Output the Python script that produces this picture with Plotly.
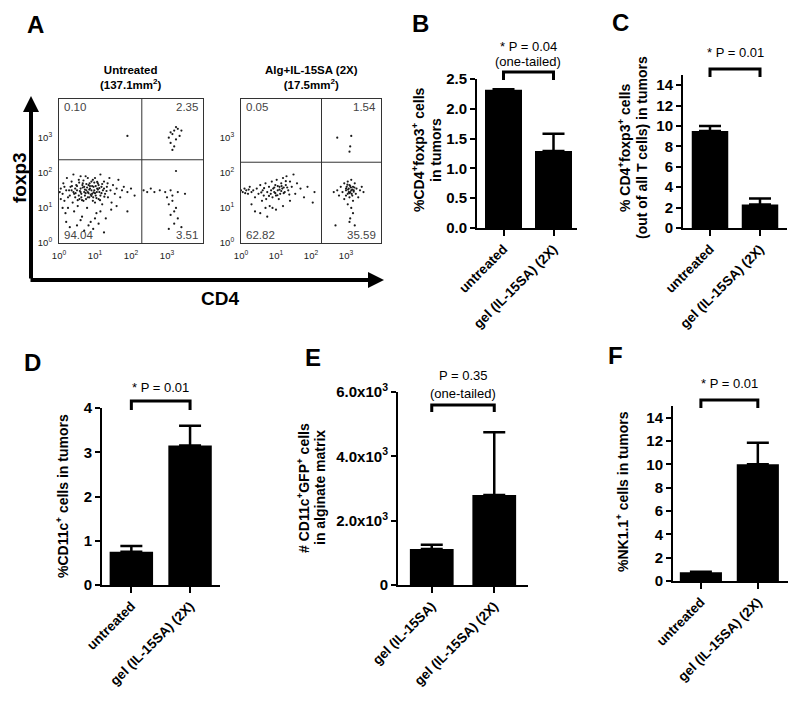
import plotly.graph_objects as go

W, H = 800, 709
FONT = "Liberation Sans, Arial, Helvetica, sans-serif"

# ===================== DATA =====================
# ---- Panel A: flow cytometry dot plots (log10 CD4, log10 foxp3)
a_titles = ["<b>Untreated<br>(137.1mm<sup>2</sup>)</b>", "<b>Alg+IL-15SA (2X)<br>(17.5mm<sup>2</sup>)</b>"]
a1_quadrant_pct = ["0.10", "2.35", "94.04", "3.51"]   # UL, UR, LL, LR
a2_quadrant_pct = ["0.05", "1.54", "62.82", "35.59"]
a1_gate_log = [2.3, 2.37]   # CD4 gate, foxp3 gate (log10)
a2_gate_log = [2.3, 2.3]
a_tick_vals = [1, 10, 100, 1000]
a_tick_text = ["10<sup>0</sup>", "10<sup>1</sup>", "10<sup>2</sup>", "10<sup>3</sup>"]

a1_events_log = [
    (0.05, 1.55), (0.1, 1.4), (0.12, 1.7), (0.15, 1.2), (0.2, 1.5), (0.22, 1.85), (0.25, 1.0), (0.3, 1.35),
    (0.32, 1.6), (0.35, 1.75), (0.38, 1.15), (0.4, 1.45), (0.42, 0.9), (0.45, 1.3), (0.48, 1.65), (0.5, 1.5),
    (0.52, 1.05), (0.55, 1.8), (0.57, 1.25), (0.6, 1.55), (0.62, 1.4), (0.64, 0.75), (0.66, 1.7), (0.68, 1.2),
    (0.7, 1.6), (0.72, 1.35), (0.74, 1.9), (0.76, 1.5), (0.78, 1.0), (0.8, 1.45), (0.82, 1.65), (0.84, 1.3),
    (0.86, 1.55), (0.88, 0.6), (0.9, 1.75), (0.92, 1.4), (0.94, 1.2), (0.96, 1.6), (0.98, 1.5), (1.0, 1.85),
    (1.02, 1.35), (1.04, 0.85), (1.06, 1.55), (1.08, 1.7), (1.1, 1.25), (1.12, 1.45), (1.15, 1.95), (1.18, 1.6),
    (1.2, 1.1), (1.22, 1.5), (1.25, 1.75), (1.28, 1.4), (1.3, 0.7), (1.33, 1.6), (1.36, 1.3), (1.4, 1.85),
    (1.43, 1.5), (1.46, 1.15), (1.5, 1.65), (1.55, 1.4), (1.6, 1.55), (1.65, 1.8), (1.7, 1.3), (1.75, 1.5),
    (1.8, 1.6), (1.9, 1.45), (2.0, 1.55), (2.1, 1.35), (0.3, 0.45), (0.5, 0.5), (0.7, 0.35), (0.95, 0.4),
    (1.1, 0.55), (0.2, 0.6), (1.25, 0.3), (1.9, 0.9), (0.15, 1.6), (0.35, 1.5), (0.55, 1.35), (0.65, 1.65),
    (0.75, 1.25), (0.85, 1.7), (0.95, 1.3), (1.05, 1.45), (1.15, 1.35), (1.25, 1.55), (1.35, 1.7), (0.45, 1.55),
    (0.6, 1.9), (0.8, 1.85), (1.0, 1.15), (0.9, 1.5), (0.7, 1.45), (1.1, 1.65), (0.25, 1.3), (0.05, 1.25),
    (0.02, 1.45), (0.4, 1.95), (0.58, 1.48), (0.88, 1.38), (1.02, 1.62), (1.32, 1.48), (0.78, 1.58), (0.52, 1.22),
    (0.62, 1.3), (0.72, 1.52), (0.82, 1.42), (0.92, 1.62), (1.08, 1.52), (0.68, 1.78), (0.98, 1.72), (0.42, 1.4),
    (0.6, 1.45), (0.66, 1.58), (0.74, 1.42), (0.84, 1.52), (0.86, 1.62), (0.9, 1.34), (0.96, 1.44), (1.04, 1.28),
    (1.06, 1.74), (1.12, 1.56), (1.18, 1.42), (1.2, 1.68), (0.5, 1.62), (0.56, 1.72), (0.64, 1.22), (0.76, 1.68),
    (0.8, 1.3), (0.94, 1.8), (1.0, 1.42), (1.14, 1.22), (0.36, 1.62), (0.28, 1.5), (0.46, 1.42), (1.26, 1.32),
    (0.1, 1.0), (0.18, 0.85), (0.6, 0.65), (0.82, 0.5), (1.0, 0.7), (1.15, 0.9), (1.45, 0.95), (1.6, 1.05),
    # lower right
    (2.35, 1.5), (2.45, 1.45), (2.55, 1.55), (2.65, 1.45), (2.8, 1.5), (2.95, 1.45), (3.1, 1.5), (3.3, 1.45),
    (3.5, 1.4), (3.05, 1.1), (3.15, 1.2), (3.2, 0.9), (3.25, 1.0), (3.1, 0.8), (3.3, 0.7), (3.2, 0.55),
    (3.05, 0.4), (3.4, 0.45), (3.15, 1.35), (3.25, 2.05), (3.0, 1.3),
    # upper right
    (3.05, 3.0), (3.1, 2.85), (3.15, 3.1), (3.2, 3.2), (3.25, 2.95), (3.3, 3.25), (3.2, 2.75), (3.35, 3.05),
    (3.15, 2.65), (3.4, 3.2), (3.25, 3.3), (3.1, 3.15),
    # upper left
    (1.9, 3.05),
]

a2_events_log = [
    (0.0, 1.5), (0.05, 1.45), (0.1, 1.55), (0.15, 1.5), (0.2, 1.4), (0.25, 1.6), (0.3, 1.45), (0.35, 1.5),
    (0.4, 1.3), (0.45, 1.55), (0.5, 1.4), (0.55, 1.65), (0.6, 1.2), (0.62, 1.5), (0.65, 1.35), (0.7, 1.7),
    (0.72, 1.25), (0.75, 1.45), (0.8, 1.6), (0.82, 1.05), (0.85, 1.4), (0.88, 1.75), (0.9, 1.3), (0.92, 1.55),
    (0.95, 1.45), (0.98, 1.65), (1.0, 1.35), (1.02, 1.8), (1.05, 1.5), (1.08, 1.25), (1.1, 1.6), (1.12, 1.4),
    (1.15, 1.7), (1.18, 1.55), (1.2, 1.85), (1.25, 1.45), (1.28, 1.65), (1.3, 1.9), (1.35, 1.5), (1.4, 1.75),
    (1.45, 1.6), (1.5, 1.95), (1.55, 1.4), (1.6, 1.7), (1.7, 1.55), (1.8, 1.3), (1.9, 1.6), (2.05, 1.15),
    (2.1, 1.45), (0.55, 0.85), (0.75, 0.75), (1.0, 0.95), (1.2, 1.05), (0.4, 0.9), (0.3, 1.1), (0.9, 1.0),
    (1.4, 1.2), (0.7, 1.0), (1.05, 1.62), (1.15, 1.48), (0.95, 1.58), (1.22, 1.58),
    (0.98, 1.42), (1.04, 1.36), (1.1, 1.52), (1.16, 1.62), (1.22, 1.42), (0.86, 1.5), (0.8, 1.34), (0.66, 1.56),
    (1.32, 1.58), (1.38, 1.38), (0.58, 1.44), (0.12, 1.42), (0.22, 1.52), (1.28, 1.76),
    # lower right cluster
    (2.65, 1.45), (2.75, 1.5), (2.8, 1.35), (2.85, 1.6), (2.9, 1.45), (2.95, 1.25), (2.95, 1.7), (3.0, 1.5),
    (3.0, 1.35), (3.02, 1.6), (3.05, 1.4), (3.05, 1.75), (3.08, 1.55), (3.1, 1.3), (3.1, 1.65), (3.12, 1.45),
    (3.15, 1.5), (3.15, 1.8), (3.18, 1.35), (3.2, 1.6), (3.2, 1.2), (3.22, 1.5), (3.25, 1.7), (3.28, 1.4),
    (3.3, 1.55), (3.35, 1.3), (3.4, 1.5), (3.45, 1.6), (3.5, 1.45), (3.05, 1.1), (3.15, 1.0), (3.2, 0.85),
    (3.1, 0.6), (3.25, 0.5), (3.12, 0.7), (2.7, 0.5), (3.0, 1.55), (3.08, 1.45), (3.12, 1.62), (3.18, 1.52),
    (3.06, 1.52), (3.1, 1.42), (3.14, 1.58), (3.16, 1.4), (3.22, 1.46), (3.04, 1.66), (3.24, 1.58),
    # upper right
    (3.1, 2.6), (3.12, 2.75), (3.15, 3.05), (2.75, 3.0),
]

# ---- Bar panels: mean + SEM
cats_B = ["untreated", "gel (IL-15SA) (2X)"]
mean_B = [2.32, 1.29]
sem_B = [0.01, 0.29]
ptext_B = ["* P = 0.04", "(one-tailed)"]

cats_C = ["untreated", "gel (IL-15SA) (2X)"]
mean_C = [9.5, 2.3]
sem_C = [0.5, 0.6]
ptext_C = ["* P = 0.01"]

cats_D = ["untreated", "gel (IL-15SA) (2X)"]
mean_D = [0.75, 3.15]
sem_D = [0.13, 0.45]
ptext_D = ["* P = 0.01"]

cats_E = ["gel (IL-15SA)", "gel (IL-15SA) (2X)"]
mean_E = [1120, 2800]
sem_E = [130, 1950]
ptext_E = ["P = 0.35", "(one-tailed)"]
ticks_E = [0, 2000, 4000, 6000]
ticktext_E = ["0", "2.0x10<sup>3</sup>", "4.0x10<sup>3</sup>", "6.0x10<sup>3</sup>"]

cats_F = ["untreated", "gel (IL-15SA) (2X)"]
mean_F = [0.75, 10.0]
sem_F = [0.05, 1.85]
ptext_F = ["* P = 0.01"]

# ===================== LAYOUT HELPERS =====================
def px(x):
    return x / W

def py(y):
    return 1 - y / H

def axnames(k):
    s = "" if k == 1 else str(k)
    return f"x{s}", f"y{s}", f"xaxis{s}", f"yaxis{s}"

fig = go.Figure()
layout = dict(
    template="none",
    width=W, height=H, margin=dict(l=0, r=0, t=0, b=0, pad=0), autosize=False,
    paper_bgcolor="white", plot_bgcolor="white", showlegend=False,
    font=dict(family=FONT, color="black"),
)
annotations = []
shapes = []

def label(text, x, y, size, angle=0, color="black", xanchor="center", yanchor="middle"):
    annotations.append(dict(text=text, x=px(x), y=py(y), xref="paper", yref="paper", textangle=angle,
                            showarrow=False, xanchor=xanchor, yanchor=yanchor,
                            font=dict(size=size, family=FONT, color=color)))

# ---------------- Panel A ----------------
dot_boxes = [(59, 203, 99, 243), (241, 381, 99, 243)]
dot_events = [a1_events_log, a2_events_log]
dot_pcts = [a1_quadrant_pct, a2_quadrant_pct]
dot_gates = [a1_gate_log, a2_gate_log]
XMAX, YMAX = 4.0, 4.1
for i in range(2):
    k = i + 1
    xa, ya, xkey, ykey = axnames(k)
    x0, x1, y0, y1 = dot_boxes[i]
    ev = dot_events[i]
    fig.add_trace(go.Scatter(
        x=[10 ** e[0] for e in ev], y=[10 ** e[1] for e in ev], mode="markers",
        marker=dict(size=2.2, color="#1a1a1a"), xaxis=xa, yaxis=ya, hoverinfo="skip"))
    gx, gy = dot_gates[i]
    fig.add_trace(go.Scatter(x=[10 ** gx, 10 ** gx], y=[1, 10 ** YMAX], mode="lines",
                             line=dict(color="#333", width=1), xaxis=xa, yaxis=ya))
    fig.add_trace(go.Scatter(x=[1, 10 ** XMAX], y=[10 ** gy, 10 ** gy], mode="lines",
                             line=dict(color="#333", width=1), xaxis=xa, yaxis=ya))
    common = dict(type="log", showline=True, mirror=True, linecolor="#333", automargin=False,
                  linewidth=1, showgrid=False, zeroline=False, ticks="", tickvals=a_tick_vals,
                  ticktext=a_tick_text, tickfont=dict(size=9.5, color="#222", family=FONT))
    layout[xkey] = dict(common, domain=[px(x0), px(x1)], anchor=ya, range=[0, XMAX], ticklabelstandoff=4)
    layout[ykey] = dict(common, domain=[py(y1), py(y0)], anchor=xa, range=[0, YMAX], ticklabelstandoff=4)
    pcts = dot_pcts[i]
    for (t, ax_, ay_, xan, yan) in [(pcts[0], 0.02, 1.0, "left", "top"), (pcts[1], 0.98, 1.0, "right", "top"),
                                    (pcts[2], 0.02, 0.0, "left", "bottom"), (pcts[3], 0.98, 0.0, "right", "bottom")]:
        annotations.append(dict(text=t, x=ax_, y=ay_, xref=f"{xa} domain", yref=f"{ya} domain",
                                xanchor=xan, yanchor=yan, showarrow=False,
                                font=dict(size=11.5, color="#444", family=FONT)))
    label(a_titles[i], (x0 + x1) / 2, 93, 11.5, yanchor="bottom")

# big arrows
annotations.append(dict(x=px(31), y=py(96), xref="paper", yref="paper", ax=0, ay=184, text="",
                        showarrow=True, arrowhead=2, arrowwidth=4, arrowsize=0.8, arrowcolor="black"))
annotations.append(dict(x=px(384), y=py(280), xref="paper", yref="paper", ax=-355, ay=0, text="",
                        showarrow=True, arrowhead=2, arrowwidth=4, arrowsize=0.8, arrowcolor="black"))
label("<b>foxp3</b>", 19, 178, 19, angle=-90)
label("<b>CD4</b>", 220, 298, 19)

# ---------------- Bar panels ----------------
bar_panels = [
    dict(k=3, cats=cats_B, mean=mean_B, sem=sem_B, ptext=ptext_B, xd=(477, 577), yd=(79, 228),
         xr=[-0.53, 1.47], yr=[0, 2.5], bw=0.74, dtick=0.5, tickformat=".1f", br=(72, 80), pt=[46, 62],
         ytitle=["%CD4<sup>+</sup>foxp3<sup>+</sup> cells", "in tumors"], yt_x=[418, 436], yt_y=150),
    dict(k=4, cats=cats_C, mean=mean_C, sem=sem_C, ptext=ptext_C, xd=(683, 787), yd=(75, 228),
         xr=[-0.54, 1.54], yr=[0, 15], bw=0.73, tickvals=[0, 2, 4, 6, 8, 10, 12, 14], br=(69, 77), pt=[52],
         ytitle=["% CD4<sup>+</sup>foxp3<sup>+</sup> cells", "(out of all T cells) in tumors"], yt_x=[624, 642], yt_y=148),
    dict(k=5, cats=cats_D, mean=mean_D, sem=sem_D, ptext=ptext_D, xd=(102, 220), yd=(408, 585),
         xr=[-0.5, 1.51], yr=[0, 4], bw=0.74, dtick=1, br=(401, 410), pt=[387],
         ytitle=["%CD11c<sup>+</sup> cells in tumors"], yt_x=[62], yt_y=496),
    dict(k=6, cats=cats_E, mean=mean_E, sem=sem_E, ptext=ptext_E, xd=(398, 528), yd=(392, 585),
         xr=[-0.54, 1.54], yr=[0, 6000], bw=0.7, tickvals=ticks_E, ticktext=ticktext_E, br=(405, 412),
         pt=[376, 393], ytitle=["# CD11c<sup>+</sup>GFP<sup>+</sup> cells", "in alginate matrix"],
         yt_x=[303, 320], yt_y=488),
    dict(k=7, cats=cats_F, mean=mean_F, sem=sem_F, ptext=ptext_F, xd=(673, 788), yd=(406, 581),
         xr=[-0.49, 1.53], yr=[0, 15], bw=0.74, tickvals=[0, 2, 4, 6, 8, 10, 12, 14], br=(400, 408), pt=[383],
         ytitle=["%NK1.1<sup>+</sup> cells in tumors"], yt_x=[622], yt_y=492),
]

for p in bar_panels:
    k = p["k"]
    xa, ya, xkey, ykey = axnames(k)
    fig.add_trace(go.Bar(
        x=p["cats"], y=p["mean"], width=p["bw"], xaxis=xa, yaxis=ya,
        marker=dict(color="black", line=dict(width=0)),
        error_y=dict(type="data", array=p["sem"], arrayminus=[0] * len(p["sem"]), symmetric=False,
                     color="black", thickness=2.5, width=11)))
    layout[xkey] = dict(
        domain=[px(p["xd"][0]), px(p["xd"][1])], anchor=ya, type="category", range=p["xr"],
        showline=True, linecolor="black", linewidth=2, ticks="outside", ticklen=6, tickwidth=2,
        tickcolor="black", automargin=False,
        tickangle=-45, tickfont=dict(size=13.5, family=FONT, weight="bold"), showgrid=False, zeroline=False)
    yax = dict(
        domain=[py(p["yd"][1]), py(p["yd"][0])], anchor=xa, range=p["yr"], automargin=False,
        showline=True, linecolor="black", linewidth=2, ticks="outside", ticklen=5, tickwidth=2,
        tickcolor="black",
        tickfont=dict(size=15, family=FONT, weight="bold"), showgrid=False, zeroline=False)
    if "dtick" in p:
        yax.update(dtick=p["dtick"], tick0=0)
    if "tickformat" in p:
        yax["tickformat"] = p["tickformat"]
    if "tickvals" in p:
        yax["tickvals"] = p["tickvals"]
    if "ticktext" in p:
        yax["ticktext"] = p["ticktext"]
    layout[ykey] = yax

    # significance bracket between the two bar centers
    r0, r1 = p["xr"]
    d0, d1 = px(p["xd"][0]), px(p["xd"][1])
    bx = [d0 + (i - r0) / (r1 - r0) * (d1 - d0) for i in range(len(p["cats"]))]
    ytop, ylow = py(p["br"][0]), py(p["br"][1])
    shapes.append(dict(type="path", xref="paper", yref="paper",
                       path=f"M {bx[0]} {ylow} L {bx[0]} {ytop} L {bx[1]} {ytop} L {bx[1]} {ylow}",
                       line=dict(color="black", width=3)))
    cx = (bx[0] + bx[1]) / 2 * W
    for t, yy in zip(p["ptext"], p["pt"]):
        label(t, cx, yy, 13)
    for t, xx in zip(p["ytitle"], p["yt_x"]):
        label(f"<b>{t}</b>", xx, p["yt_y"], 14, angle=-90)

# panel letters
for t, x, y in [("A", 35, 25), ("B", 420, 24), ("C", 620, 23), ("D", 32, 362), ("E", 313, 357), ("F", 615, 355)]:
    label(f"<b>{t}</b>", x, y, 24)

layout["annotations"] = annotations
layout["shapes"] = shapes
fig.update_layout(**layout)
fig.write_html("out.html", config={"displayModeBar": False},
               post_script="document.body.style.margin='0';document.body.style.overflow='hidden';")
